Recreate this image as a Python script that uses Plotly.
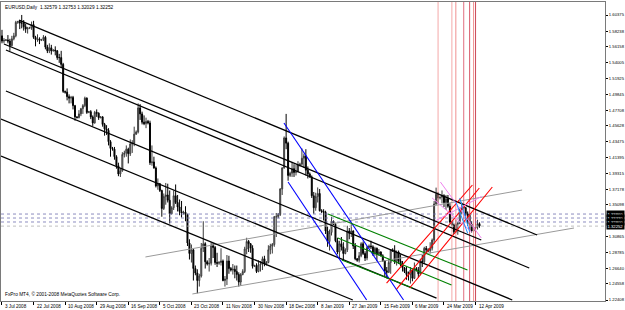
import plotly.graph_objects as go

# ---------------- data (EURUSD daily, bar index 0 = 3 Jul 2008) ----------------
opens = [1.5760,1.5690,1.5700,1.5705,1.5690,1.5630,1.5720,1.5760,1.5940,1.5950,
         1.5930,1.5930,1.5880,1.5850,1.5860,1.5870,1.5910,1.5740,1.5710,1.5720,
         1.5700,1.5710,1.5740,1.5610,1.5560,1.5600,1.5560,1.5570,1.5560,1.5470,
         1.5470,1.5380,1.5020,1.5010,1.4950,1.4930,1.4940,1.4830,1.4680,1.4670,
         1.4720,1.4790,1.4830,1.4930,1.4740,1.4750,1.4680,1.4600,1.4740,1.4730,
         1.4670,1.4680,1.4580,1.4520,1.4500,1.4350,1.4260,1.4250,1.4150,1.4030,
         1.3920,1.3960,1.4180,1.4200,1.4250,1.4190,1.4320,1.4330,1.4450,1.4480,
         1.4800,1.4720,1.4610,1.4590,1.4620,1.4600,1.4070,1.4080,1.4000,1.3760,
         1.3790,1.3700,1.3460,1.3620,1.3640,1.3570,1.3390,1.3470,1.3630,1.3540,
         1.3480,1.3420,1.3400,1.3410,1.3380,1.3000,1.2860,1.2910,1.2660,1.2600,
         1.2500,1.2560,1.2930,1.2990,1.2750,1.2720,1.2730,1.2970,1.2940,1.2740,
         1.2730,1.2740,1.2760,1.2500,1.2520,1.2760,1.2660,1.2640,1.2650,1.2620,
         1.2580,1.2480,1.2580,1.2620,1.2920,1.3020,1.2990,1.2930,1.2690,1.2700,
         1.2620,1.2710,1.2720,1.2790,1.2720,1.2740,1.2910,1.2960,1.2980,1.3350,
         1.3350,1.3380,1.3720,1.4000,1.4400,1.4330,1.3900,1.3930,1.3990,1.3940,
         1.3950,1.4040,1.4050,1.4130,1.4160,1.3970,1.3920,1.3880,1.3630,1.3470,
         1.3620,1.3660,1.3430,1.3420,1.3410,1.3160,1.3020,1.3140,1.3290,1.3250,
         1.3030,1.2880,1.2990,1.2950,1.2860,1.2910,1.3160,1.3130,1.3160,1.2960,
         1.2790,1.2770,1.2830,1.2990,1.2860,1.2800,1.2940,1.2960,1.2950,1.2860,
         1.2930,1.2850,1.2880,1.2830,1.2760,1.2630,1.2610,1.2740,1.2910,1.2900,
         1.2750,1.2880,1.2760,1.2710,1.2670,1.2620,1.2580,1.2580,1.2640,1.2530,
         1.2660,1.2640,1.2590,1.2760,1.2750,1.2930,1.2910,1.2900,1.2930,1.3040,
         1.3520,1.3650,1.3600,1.3610,1.3630,1.3540,1.3590,1.3490,1.3280,1.3240,
         1.3150,1.3250,1.3260,1.3440,1.3480,1.3470,1.3390,1.3370,1.3250,1.3160,
         1.3200,1.3210,1.32579]
highs = [1.5840,1.5730,1.5715,1.5770,1.5720,1.5760,1.5800,1.5960,1.5960,1.5970,
         1.6038,1.5970,1.5920,1.5880,1.5880,1.5950,1.5960,1.5760,1.5780,1.5740,
         1.5720,1.5770,1.5760,1.5640,1.5660,1.5640,1.5580,1.5620,1.5570,1.5520,
         1.5560,1.5400,1.5030,1.5060,1.4980,1.4960,1.4960,1.4840,1.4690,1.4770,
         1.4800,1.4850,1.4950,1.4940,1.4760,1.4770,1.4700,1.4760,1.4780,1.4740,
         1.4690,1.4690,1.4600,1.4570,1.4530,1.4370,1.4280,1.4280,1.4170,1.4070,
         1.4000,1.4210,1.4230,1.4300,1.4270,1.4380,1.4370,1.4550,1.4500,1.4860,
         1.4850,1.4750,1.4700,1.4670,1.4640,1.4630,1.4300,1.4150,1.4020,1.3860,
         1.3800,1.3710,1.3660,1.3800,1.3790,1.3700,1.3490,1.3700,1.3780,1.3640,
         1.3580,1.3560,1.3430,1.3490,1.3390,1.3050,1.2980,1.2920,1.2700,1.2650,
         1.2590,1.3000,1.3290,1.3010,1.2770,1.2800,1.3010,1.3000,1.2960,1.2870,
         1.2760,1.2930,1.2780,1.2560,1.2840,1.2830,1.2680,1.2720,1.2700,1.2700,
         1.2610,1.2600,1.2650,1.2950,1.3070,1.3040,1.3000,1.2970,1.2710,1.2730,
         1.2770,1.2760,1.2820,1.2830,1.2760,1.2970,1.2990,1.3000,1.3360,1.3400,
         1.3400,1.3730,1.4010,1.4420,1.4720,1.4350,1.3950,1.4080,1.4050,1.4040,
         1.4090,1.4070,1.4260,1.4190,1.4250,1.4020,1.3940,1.3900,1.3680,1.3670,
         1.3740,1.3720,1.3450,1.3450,1.3430,1.3220,1.3180,1.3350,1.3300,1.3270,
         1.3070,1.3030,1.3080,1.3010,1.2930,1.3230,1.3200,1.3250,1.3170,1.3000,
         1.2800,1.2880,1.3010,1.3020,1.2890,1.2960,1.2980,1.3030,1.2970,1.2950,
         1.2940,1.2920,1.2890,1.2850,1.2770,1.2680,1.2790,1.2920,1.2930,1.2970,
         1.2900,1.2900,1.2850,1.2760,1.2680,1.2680,1.2620,1.2680,1.2660,1.2740,
         1.2680,1.2680,1.2790,1.2840,1.2950,1.2960,1.2930,1.3010,1.3060,1.3560,
         1.3738,1.3680,1.3620,1.3700,1.3650,1.3640,1.3640,1.3530,1.3290,1.3260,
         1.3310,1.3280,1.3470,1.3540,1.3500,1.3480,1.3420,1.3380,1.3290,1.3230,
         1.3220,1.3310,1.32753]
lows = [1.5660,1.5660,1.5690,1.5660,1.5560,1.5620,1.5700,1.5740,1.5920,1.5850,
        1.5860,1.5830,1.5800,1.5790,1.5850,1.5840,1.5720,1.5620,1.5680,1.5650,
        1.5690,1.5690,1.5580,1.5530,1.5530,1.5510,1.5550,1.5500,1.5440,1.5400,
        1.5330,1.5000,1.4990,1.4900,1.4860,1.4860,1.4780,1.4630,1.4660,1.4660,
        1.4690,1.4720,1.4810,1.4720,1.4730,1.4650,1.4560,1.4590,1.4680,1.4640,
        1.4660,1.4550,1.4430,1.4440,1.4300,1.4150,1.4230,1.4110,1.3990,1.3890,
        1.3880,1.3950,1.4140,1.4150,1.4060,1.4160,1.4200,1.4290,1.4440,1.4460,
        1.4640,1.4580,1.4570,1.4530,1.4580,1.4040,1.4030,1.3990,1.3740,1.3710,
        1.3680,1.3350,1.3440,1.3510,1.3540,1.3260,1.3380,1.3440,1.3520,1.3420,
        1.3370,1.3340,1.3380,1.3290,1.2960,1.2780,1.2740,1.2500,1.2570,1.2330,
        1.2420,1.2540,1.2880,1.2660,1.2700,1.2620,1.2700,1.2800,1.2710,1.2680,
        1.2710,1.2700,1.2490,1.2420,1.2440,1.2590,1.2620,1.2580,1.2530,1.2500,
        1.2420,1.2430,1.2570,1.2600,1.2850,1.2880,1.2870,1.2660,1.2680,1.2600,
        1.2610,1.2620,1.2640,1.2690,1.2700,1.2730,1.2850,1.2860,1.2950,1.3080,
        1.3330,1.3360,1.3640,1.3990,1.4250,1.3830,1.3880,1.3880,1.3880,1.3900,
        1.3940,1.4020,1.4030,1.4000,1.3900,1.3860,1.3870,1.3600,1.3390,1.3430,
        1.3540,1.3420,1.3400,1.3300,1.3120,1.2950,1.2900,1.3100,1.3240,1.3010,
        1.2850,1.2790,1.2900,1.2760,1.2850,1.2880,1.3050,1.3080,1.2920,1.2770,
        1.2750,1.2740,1.2810,1.2840,1.2760,1.2770,1.2930,1.2920,1.2830,1.2830,
        1.2760,1.2830,1.2820,1.2750,1.2560,1.2530,1.2600,1.2590,1.2880,1.2720,
        1.2700,1.2720,1.2690,1.2620,1.2600,1.2510,1.2500,1.2460,1.2490,1.2520,
        1.2620,1.2540,1.2570,1.2680,1.2720,1.2860,1.2880,1.2860,1.2900,1.2990,
        1.3510,1.3520,1.3580,1.3530,1.3480,1.3440,1.3470,1.3260,1.3230,1.3120,
        1.3130,1.3110,1.3250,1.3380,1.3450,1.3350,1.3230,1.3170,1.3140,1.3150,
        1.3180,1.3180,1.32029]
closes = [1.5690,1.5700,1.5705,1.5690,1.5630,1.5720,1.5760,1.5940,1.5950,1.5930,
          1.5930,1.5880,1.5850,1.5860,1.5870,1.5910,1.5740,1.5710,1.5720,1.5700,
          1.5710,1.5740,1.5610,1.5560,1.5600,1.5560,1.5570,1.5560,1.5470,1.5470,
          1.5380,1.5020,1.5010,1.4950,1.4930,1.4940,1.4830,1.4680,1.4670,1.4720,
          1.4790,1.4830,1.4930,1.4740,1.4750,1.4680,1.4600,1.4740,1.4730,1.4670,
          1.4680,1.4580,1.4520,1.4500,1.4350,1.4260,1.4250,1.4150,1.4030,1.3920,
          1.3960,1.4180,1.4200,1.4250,1.4190,1.4320,1.4330,1.4450,1.4480,1.4800,
          1.4720,1.4610,1.4590,1.4620,1.4600,1.4070,1.4080,1.4000,1.3760,1.3790,
          1.3700,1.3460,1.3620,1.3640,1.3570,1.3390,1.3470,1.3630,1.3540,1.3480,
          1.3420,1.3400,1.3410,1.3380,1.3000,1.2860,1.2910,1.2660,1.2600,1.2500,
          1.2560,1.2930,1.2990,1.2750,1.2720,1.2730,1.2970,1.2940,1.2740,1.2730,
          1.2740,1.2760,1.2500,1.2520,1.2760,1.2660,1.2640,1.2650,1.2620,1.2580,
          1.2480,1.2580,1.2620,1.2920,1.3020,1.2990,1.2930,1.2690,1.2700,1.2620,
          1.2710,1.2720,1.2790,1.2720,1.2740,1.2910,1.2960,1.2980,1.3350,1.3350,
          1.3380,1.3720,1.4000,1.4400,1.4330,1.3900,1.3930,1.3990,1.3940,1.3950,
          1.4040,1.4050,1.4130,1.4160,1.3970,1.3920,1.3880,1.3630,1.3470,1.3620,
          1.3660,1.3430,1.3420,1.3410,1.3160,1.3020,1.3140,1.3290,1.3250,1.3030,
          1.2880,1.2990,1.2950,1.2860,1.2910,1.3160,1.3130,1.3160,1.2960,1.2790,
          1.2770,1.2830,1.2990,1.2860,1.2800,1.2940,1.2960,1.2950,1.2860,1.2930,
          1.2850,1.2880,1.2830,1.2760,1.2630,1.2610,1.2740,1.2910,1.2900,1.2750,
          1.2880,1.2760,1.2710,1.2670,1.2620,1.2580,1.2580,1.2640,1.2530,1.2660,
          1.2640,1.2590,1.2760,1.2750,1.2930,1.2910,1.2900,1.2930,1.3040,1.3520,
          1.3650,1.3600,1.3610,1.3630,1.3540,1.3590,1.3490,1.3280,1.3240,1.3150,
          1.3250,1.3260,1.3440,1.3480,1.3470,1.3390,1.3370,1.3250,1.3160,1.3200,
          1.3210,1.3258,1.32252]
bars = list(range(len(closes)))

date_tick_bars = [0, 16, 32, 48, 64, 80, 96, 112, 128, 144, 160, 176, 192, 208, 224, 240]
date_tick_text = ["3 Jul 2008", "22 Jul 2008", "10 Aug 2008", "29 Aug 2008", "16 Sep 2008",
                  "5 Oct 2008", "23 Oct 2008", "11 Nov 2008", "30 Nov 2008", "18 Dec 2008",
                  "8 Jan 2009", "27 Jan 2009", "15 Feb 2009", "6 Mar 2009", "24 Mar 2009",
                  "12 Apr 2009"]
price_ticks = [1.60375, 1.58238, 1.56158, 1.54005, 1.51925, 1.49845, 1.47708, 1.45628,
               1.43475, 1.41395, 1.39315, 1.37178, 1.35098, 1.30865, 1.28785, 1.26640,
               1.24558, 1.22408]

# trend lines: (bar0, price0, bar1, price1)
black_lines = [(8.6, 1.5970, 271.2, 1.3107),
               (1.0, 1.5651, 242.9, 1.3040),
               (2.0, 1.5571, 267.2, 1.2667),
               (2.0, 1.5025, 258.6, 1.2241),
               (-0.5, 1.4652, 220.2, 1.2267),
               (-0.5, 1.4159, 177.8, 1.2241)]
gray_lines = [(72.7, 1.2814, 263.6, 1.3706),
              (96.5, 1.2321, 289.9, 1.3200)]
blue_lines = [(142.9, 1.4598, 203.5, 1.2241),
              (145.0, 1.3813, 184.8, 1.2241)]
green_lines = [(165.2, 1.3386, 235.9, 1.2640),
               (170.2, 1.3067, 227.8, 1.2441),
               (172.2, 1.2774, 208.1, 1.2401)]
red_lines = [(194.9, 1.2467, 238.4, 1.3773),
             (200.0, 1.2387, 241.9, 1.3733),
             (206.6, 1.2401, 248.5, 1.3746)]
pink_lines = [(222.2, 1.3812, 242.9, 1.3067),
              (218.0, 1.3600, 238.0, 1.3150),
              (220.0, 1.3300, 243.0, 1.3620)]
cyan_lines = [(230.0, 1.3550, 236.0, 1.3130),
              (232.0, 1.3600, 237.0, 1.3150)]
vline_bars = [221, 228, 230, 234, 237, 239, 240]
vline_colors = ["#f4a8a8", "#f4a8a8", "#f09090", "#e07080", "#d85868", "#f09090", "#cc4858"]
hlines = [1.3386, 1.3333, 1.3280, 1.3225]
hline_colors = ["#7070b0", "#7070b0", "#7070b0", "#b0b0b0"]
box_labels = ["1.33860", "1.33330", "1.32800", "1.32252"]

fig = go.Figure()
fig.add_trace(go.Candlestick(
    x=bars, open=opens, high=highs, low=lows, close=closes,
    increasing=dict(line=dict(color="#3a3a3a", width=1), fillcolor="#c4c4c4"),
    decreasing=dict(line=dict(color="#000000", width=1), fillcolor="#000000"),
    whiskerwidth=0, showlegend=False, hoverinfo="skip"))

shapes = []
def add_lines(lst, color, width, dash="solid"):
    for b0, p0, b1, p1 in lst:
        shapes.append(dict(type="line", xref="x", yref="y", x0=b0, y0=p0, x1=b1, y1=p1,
                           line=dict(color=color, width=width, dash=dash)))

for b, c in zip(vline_bars, vline_colors):
    shapes.append(dict(type="line", xref="x", yref="paper", x0=b, x1=b, y0=0, y1=1,
                       line=dict(color=c, width=1)))
for p, c in zip(hlines, hline_colors):
    shapes.append(dict(type="line", xref="paper", yref="y", x0=0, x1=1, y0=p, y1=p,
                       line=dict(color=c, width=0.8, dash="dot")))
add_lines(gray_lines, "#9a9a9a", 1)
add_lines(black_lines, "#000000", 1.3)
add_lines(blue_lines, "#0000ff", 1.1)
add_lines(green_lines, "#008000", 1.1)
add_lines(red_lines, "#ff0000", 1.1)
add_lines(pink_lines, "#ee82ee", 1)
add_lines(cyan_lines, "#1e90ff", 1)

annotations = []
for b, t in zip(date_tick_bars, date_tick_text):
    annotations.append(dict(x=b, y=0, xref="x", yref="paper", text=t, showarrow=False,
                            xanchor="left", yanchor="top", xshift=1, yshift=-1,
                            font=dict(family="Liberation Sans", size=4.6, color="#000")))
for p, t in zip(hlines, box_labels):
    annotations.append(dict(x=1, y=p, xref="paper", yref="y", text=t, showarrow=False,
                            xanchor="left", yanchor="middle", xshift=1, bgcolor="#000000",
                            borderpad=0.5,
                            font=dict(family="Liberation Sans", size=4.2, color="#ffffff")))
annotations.append(dict(x=0, y=1, xref="paper", yref="paper",
                        text="EURUSD,Daily  1.32579 1.32753 1.32029 1.32252", showarrow=False,
                        xanchor="left", yanchor="top", xshift=2, yshift=-1,
                        font=dict(family="Liberation Sans", size=4.8, color="#000")))
annotations.append(dict(x=0, y=0, xref="paper", yref="paper",
                        text="FxPro MT4, © 2001-2008 MetaQuotes Software Corp.", showarrow=False,
                        xanchor="left", yanchor="bottom", xshift=2, yshift=2,
                        font=dict(family="Liberation Sans", size=4.8, color="#000")))

fig.update_layout(
    width=625, height=310, margin=dict(l=0, r=19, t=2, b=9),
    paper_bgcolor="#ffffff", plot_bgcolor="#ffffff",
    shapes=shapes, annotations=annotations, showlegend=False,
    xaxis=dict(range=[-0.5, 305.6], rangeslider=dict(visible=False), showgrid=False,
               zeroline=False, showline=True, linecolor="#7a7a7a", linewidth=1, mirror=True,
               tickmode="array", tickvals=date_tick_bars, ticks="outside", ticklen=3,
               tickcolor="#000", showticklabels=False),
    yaxis=dict(range=[1.22275, 1.62107], side="right", showgrid=False, zeroline=False,
               showline=True, linecolor="#7a7a7a", linewidth=1, mirror=True,
               tickmode="array", tickvals=price_ticks,
               ticktext=[f"{v:.5f}" for v in price_ticks], ticks="outside", ticklen=2,
               tickcolor="#000", tickfont=dict(family="Liberation Sans", size=4.2, color="#000")),
)
fig.write_html("out.html")
